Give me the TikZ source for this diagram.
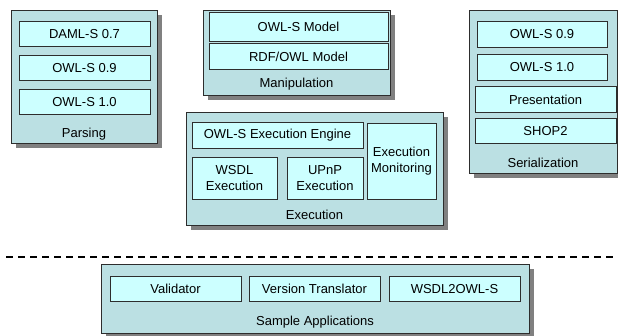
\documentclass[tikz,border=0pt]{standalone}
\usepackage{fontspec}
\setmainfont{Liberation Sans}
\usepackage{xcolor}
\usepackage{tikz}
\usetikzlibrary{shadows}
\definecolor{layerfill}{RGB}{187,224,227}
\definecolor{partfill}{RGB}{204,255,255}
\definecolor{edgegray}{RGB}{45,45,45}
\definecolor{shadegray}{RGB}{128,128,128}

\begin{document}
\begin{tikzpicture}[
  x=1pt, y=-1pt,
  font=\fontsize{13}{16.5}\selectfont,
  layer/.style={rectangle, draw=edgegray, line width=0.8pt, fill=layerfill,
    minimum width=#1, inner sep=0pt,
    drop shadow={shadow xshift=5pt, shadow yshift=-5pt, fill=shadegray, opacity=1}},
  part/.style={rectangle, draw=edgegray, line width=0.8pt, fill=partfill,
    minimum width=#1, minimum height=25.5pt, inner sep=0pt, align=center},
  caption/.style={inner sep=0pt, anchor=base}
]
\useasboundingbox (0,0) rectangle (618,336);

\node[layer=146pt, minimum height=133pt] (parsing) at (84,76.5) {};
\node[part=131pt] (daml07) at (84.5,34) {DAML-S 0.7};
\node[part=131pt] (owls09p) at (84.5,68) {OWL-S 0.9};
\node[part=131pt] (owls10p) at (84.5,102) {OWL-S 1.0};
\node[caption] (parsinglbl) at (84,137.5) {Parsing};

\node[layer=187pt, minimum height=85pt] (manip) at (296.5,52.5) {};
\node[part=179pt, minimum height=29pt] (owlsmodel) at (298.5,26.5) {OWL-S Model};
\node[part=179pt] (rdfmodel) at (298.5,56.5) {RDF/OWL Model};
\node[caption] (maniplbl) at (296.5,87.5) {Manipulation};

\node[layer=257pt, minimum height=113pt] (exec) at (314.5,168.5) {};
\node[part=171pt] (engine) at (277.5,135.5) {OWL-S Execution Engine};
\node[part=85pt, minimum height=42pt] (wsdlexec) at (234.5,178) {WSDL\\Execution};
\node[part=76pt, minimum height=42pt] (upnpexec) at (325,178) {UPnP\\Execution};
\node[part=69pt, minimum height=76pt] (monitor) at (401.5,161) {Execution\\Monitoring};
\node[caption] (execlbl) at (314.5,219.5) {Execution};

\node[layer=148pt, minimum height=163pt] (serial) at (543,91.5) {};
\node[part=130pt] (owls09s) at (542,34.5) {OWL-S 0.9};
\node[part=130pt] (owls10s) at (542,67.5) {OWL-S 1.0};
\node[part=141pt] (present) at (545.5,99.5) {Presentation};
\node[part=141pt] (shop2) at (545.5,131) {SHOP2};
\node[caption] (seriallbl) at (543,167.5) {Serialization};

\coordinate (dashL) at (6,257);
\coordinate (dashR) at (618,257);
\draw[line width=2pt, dash pattern=on 7pt off 5pt] (dashL) -- (dashR);

\node[layer=428pt, minimum height=69pt] (sample) at (315,298.5) {};
\node[part=131pt] (validator) at (175.5,289) {Validator};
\node[part=131pt] (translator) at (314.5,289) {Version Translator};
\node[part=131pt] (wsdl2owls) at (454.5,289) {WSDL2OWL-S};
\node[caption] (samplelbl) at (315,325.5) {Sample Applications};
\end{tikzpicture}
\end{document}
